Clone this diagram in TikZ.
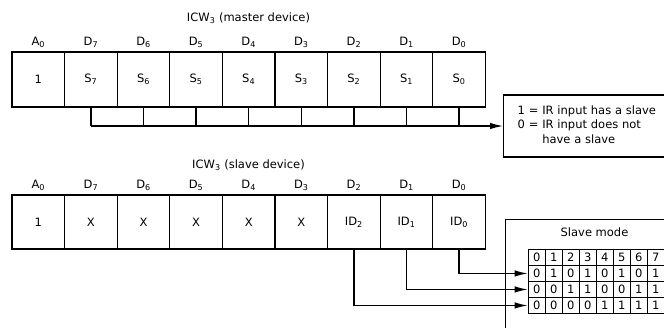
\documentclass[tikz,border=0pt]{standalone}
\usepackage{fontspec}
\setmainfont{DejaVu Sans}
\usetikzlibrary{arrows.meta,positioning,matrix}

\begin{document}
\begin{tikzpicture}[x=1pt,y=-1pt,>={Latex[length=13pt,width=6.5pt]},line width=1.3pt,
  font=\fontsize{11.5}{13.5}\selectfont,
  cell/.style={draw,minimum width=52.6pt,minimum height=55pt,outer sep=0pt,inner sep=0pt},
  lbl/.style={inner sep=1pt},
  tcell/.style={draw,minimum width=17pt,minimum height=16pt,inner sep=0pt},
  infobox/.style={draw,align=left,anchor=west,inner xsep=14pt,text width=150pt,minimum height=62pt,
    font=\fontsize{11.5}{14.5}\selectfont}]
\useasboundingbox (0,0) rectangle (664,327);
\clip (0,0) rectangle (664,327);
% master device
\node[lbl] (mtitle) at (248.5,18) {ICW\textsubscript{3} (master device)};
\node[cell] (mA) at (38.3,79.5) {1};
\foreach \b [count=\k] in {7,...,0}
  \node[cell] (m\b) at (38.3+52.6*\k,79.5) {S\textsubscript{\b}};
\node[lbl,above=3pt of mA] {A\textsubscript{0}};
\foreach \b in {7,...,0} \node[lbl,above=3pt of m\b] {D\textsubscript{\b}};
\coordinate[below=19pt of m7.south] (bus);
\node[infobox] (info) at (503,126) {\begin{tabular}{@{}l@{ }l@{ }l@{}}
  1 & = & IR input has a slave\\ 0 & = & IR input does not\\ & & have a slave\end{tabular}};
\foreach \b in {7,...,0} \draw (m\b.south) -- (m\b.south |- bus);
\draw[->] (bus) -- (info.west);
% slave device
\node[lbl] (stitle) at (248.5,165) {ICW\textsubscript{3} (slave device)};
\node[cell,minimum height=54pt] (sA) at (38.3,222) {1};
\foreach \b [count=\k] in {7,...,3}
  \node[cell,minimum height=54pt] (s\b) at (38.3+52.6*\k,222) {X};
\foreach \b [count=\k from 6] in {2,1,0}
  \node[cell,minimum height=54pt] (s\b) at (38.3+52.6*\k,222) {ID\textsubscript{\b}};
\node[lbl,above=3pt of sA] {A\textsubscript{0}};
\foreach \b in {7,...,0} \node[lbl,above=3pt of s\b] {D\textsubscript{\b}};
\node[draw,anchor=north west,minimum width=200pt,minimum height=130pt] (sbox) at (505,219) {};
\node (smode) at (594.5,232) {Slave mode};
\matrix (tbl) [matrix of nodes,anchor=north west,inner sep=0pt,nodes={tcell},
  column sep=-\pgflinewidth,row sep=-\pgflinewidth] at (527,248) {
  0 & 1 & 2 & 3 & 4 & 5 & 6 & 7\\
  0 & 1 & 0 & 1 & 0 & 1 & 0 & 1\\
  0 & 0 & 1 & 1 & 0 & 0 & 1 & 1\\
  0 & 0 & 0 & 0 & 1 & 1 & 1 & 1\\};
\draw[->] (s0.south) |- (tbl-2-1.west);
\draw[->] (s1.south) |- (tbl-3-1.west);
\draw[->] (s2.south) |- (tbl-4-1.west);
\end{tikzpicture}
\end{document}
